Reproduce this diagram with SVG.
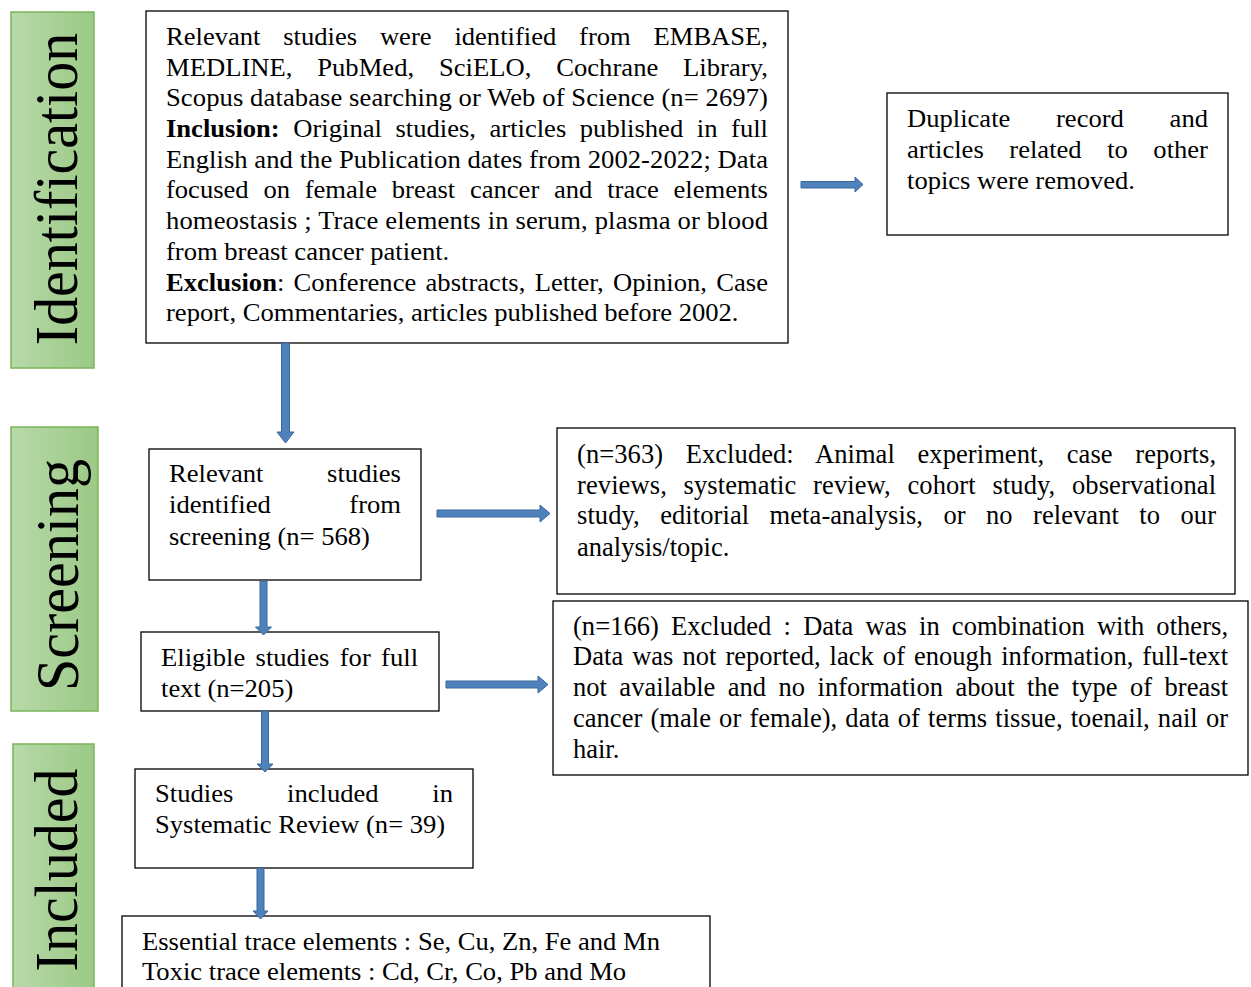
<svg xmlns="http://www.w3.org/2000/svg" width="1251" height="987" viewBox="0 0 1251 987">
<defs>
<linearGradient id="g" x1="0" y1="0" x2="1" y2="0">
<stop offset="0" stop-color="#b8d9aa"/>
<stop offset="1" stop-color="#9bc985"/>
</linearGradient>
<style>
.box{fill:#fff;stroke:#000;stroke-width:1.3}
.stage{fill:url(#g);stroke:#78b55b;stroke-width:1.5}
.t{font-family:"Liberation Serif","Times New Roman",serif;font-size:24.5px;fill:#000}
.c{font-family:"Liberation Serif","Times New Roman",serif;font-size:26.5px;fill:#000}
.lab{font-family:"Liberation Serif","Times New Roman",serif;font-size:58px;fill:#000;text-anchor:middle}
.arr{fill:#4f81bd;stroke:#3a679b;stroke-width:1}
</style>
</defs>
<rect width="1251" height="987" fill="#fff"/>

<g id="stage-identification">
<rect class="stage" x="11" y="12" width="83" height="356"/>
<text class="lab" transform="translate(77 189) rotate(-90) scale(1 1.07)">Identification</text>
</g>
<g id="stage-screening">
<rect class="stage" x="11" y="427" width="87" height="284"/>
<text class="lab" transform="translate(78 575) rotate(-90) scale(1 1.07)">Screening</text>
</g>
<g id="stage-included">
<rect class="stage" x="13" y="744" width="81" height="252"/>
<text class="lab" transform="translate(77 870) rotate(-90) scale(1 1.07)">Included</text>
</g>

<g id="node-search">
<rect class="box" x="146" y="11" width="642" height="332"/>
<text class="t" transform="translate(166 45) scale(1.085 1)" style="word-spacing:14.9px" textLength="554.8" lengthAdjust="spacing">Relevant studies were identified from EMBASE,</text>
<text class="t" transform="translate(166 76) scale(1.085 1)" style="word-spacing:16.6px" textLength="554.8" lengthAdjust="spacing">MEDLINE, PubMed, SciELO, Cochrane Library,</text>
<text class="t" transform="translate(166 106) scale(1.085 1)" textLength="554.8" lengthAdjust="spacing">Scopus database searching or Web of Science (n= 2697)</text>
<text class="t" transform="translate(166 137) scale(1.085 1)" style="word-spacing:6.4px" textLength="554.8" lengthAdjust="spacing"><tspan font-weight="bold">Inclusion:</tspan> Original studies, articles published in full</text>
<text class="t" transform="translate(166 168) scale(1.085 1)" textLength="554.8" lengthAdjust="spacing">English and the Publication dates from 2002-2022; Data</text>
<text class="t" transform="translate(166 198) scale(1.085 1)" style="word-spacing:7.5px" textLength="554.8" lengthAdjust="spacing">focused on female breast cancer and trace elements</text>
<text class="t" transform="translate(166 229) scale(1.085 1)" textLength="554.8" lengthAdjust="spacing">homeostasis ; Trace elements in serum, plasma or blood</text>
<text class="t" transform="translate(166 260) scale(1.085 1)">from breast cancer patient.</text>
<text class="t" transform="translate(166 291) scale(1.085 1)" style="word-spacing:2.4px" textLength="554.8" lengthAdjust="spacing"><tspan font-weight="bold">Exclusion</tspan>: Conference abstracts, Letter, Opinion, Case</text>
<text class="t" transform="translate(166 321) scale(1.085 1)">report, Commentaries, articles published before 2002.</text>
</g>

<g id="node-duplicates">
<rect class="box" x="887" y="93" width="341" height="142"/>
<text class="t" transform="translate(907 127) scale(1.085 1)" style="word-spacing:36px" textLength="277.4" lengthAdjust="spacing">Duplicate record and</text>
<text class="t" transform="translate(907 158) scale(1.085 1)" style="word-spacing:17.4px" textLength="277.4" lengthAdjust="spacing">articles related to other</text>
<text class="t" transform="translate(907 189) scale(1.085 1)">topics were removed.</text>
</g>

<g id="node-screening">
<rect class="box" x="149" y="449" width="272" height="131"/>
<text class="t" transform="translate(169 482) scale(1.085 1)" style="word-spacing:52.5px" textLength="213.8" lengthAdjust="spacing">Relevant studies</text>
<text class="t" transform="translate(169 513) scale(1.085 1)" style="word-spacing:66.2px" textLength="213.8" lengthAdjust="spacing">identified from</text>
<text class="t" transform="translate(169 545) scale(1.085 1)">screening (n= 568)</text>
</g>

<g id="node-excluded-363">
<rect class="box" x="557" y="428" width="678" height="166"/>
<text class="c" x="577" y="463" style="word-spacing:15.9px" textLength="639" lengthAdjust="spacing">(n=363) Excluded: Animal experiment, case reports,</text>
<text class="c" x="577" y="494" style="word-spacing:9.9px" textLength="639" lengthAdjust="spacing">reviews, systematic review, cohort study, observational</text>
<text class="c" x="577" y="524" style="word-spacing:13.7px" textLength="639" lengthAdjust="spacing">study, editorial meta-analysis, or no relevant to our</text>
<text class="c" x="577" y="556">analysis/topic.</text>
</g>

<g id="node-eligible">
<rect class="box" x="141" y="632" width="298" height="79"/>
<text class="t" transform="translate(161 666) scale(1.085 1)" style="word-spacing:3.4px" textLength="236.9" lengthAdjust="spacing">Eligible studies for full</text>
<text class="t" transform="translate(161 697) scale(1.085 1)">text (n=205)</text>
</g>

<g id="node-excluded-166">
<rect class="box" x="553" y="601" width="695" height="174"/>
<text class="c" x="573" y="635" style="word-spacing:5.5px" textLength="655" lengthAdjust="spacing">(n=166) Excluded : Data was in combination with others,</text>
<text class="c" x="573" y="665" style="word-spacing:2.3px" textLength="655" lengthAdjust="spacing">Data was not reported, lack of enough information, full-text</text>
<text class="c" x="573" y="696" style="word-spacing:5.7px" textLength="655" lengthAdjust="spacing">not available and no information about the type of breast</text>
<text class="c" x="573" y="727" style="word-spacing:1.5px" textLength="655" lengthAdjust="spacing">cancer (male or female), data of terms tissue, toenail, nail or</text>
<text class="c" x="573" y="758">hair.</text>
</g>

<g id="node-included">
<rect class="box" x="135" y="769" width="338" height="99"/>
<text class="t" transform="translate(155 802) scale(1.085 1)" style="word-spacing:43.4px" textLength="274.7" lengthAdjust="spacing">Studies included in</text>
<text class="t" transform="translate(155 833) scale(1.085 1)">Systematic Review (n= 39)</text>
</g>

<g id="node-elements">
<rect class="box" x="122" y="916" width="588" height="90"/>
<text class="t" transform="translate(142 950) scale(1.085 1)">Essential trace elements : Se, Cu, Zn, Fe and Mn</text>
<text class="t" transform="translate(142 980) scale(1.085 1)">Toxic trace elements : Cd, Cr, Co, Pb and Mo</text>
</g>

<g id="connectors">
<polygon class="arr" points="801,181.5 855,181.5 855,177 863,184.5 855,192 855,188 801,188"/>
<polygon class="arr" points="281.5,343 289.5,343 289.5,432 294,432 285.5,443 277,432 281.5,432"/>
<polygon class="arr" points="437,510 540,510 540,505 550,513.5 540,522 540,517 437,517"/>
<polygon class="arr" points="446,681 538,681 538,676 548,684.5 538,693 538,688 446,688"/>
<polygon class="arr" points="260,581 267,581 267,627 271.5,627 263.5,635 255.5,627 260,627"/>
<polygon class="arr" points="261.5,711 268.5,711 268.5,764 273,764 265,772 257,764 261.5,764"/>
<polygon class="arr" points="257,868 264,868 264,911 268,911 260.5,919 253,911 257,911"/>
</g>
</svg>
